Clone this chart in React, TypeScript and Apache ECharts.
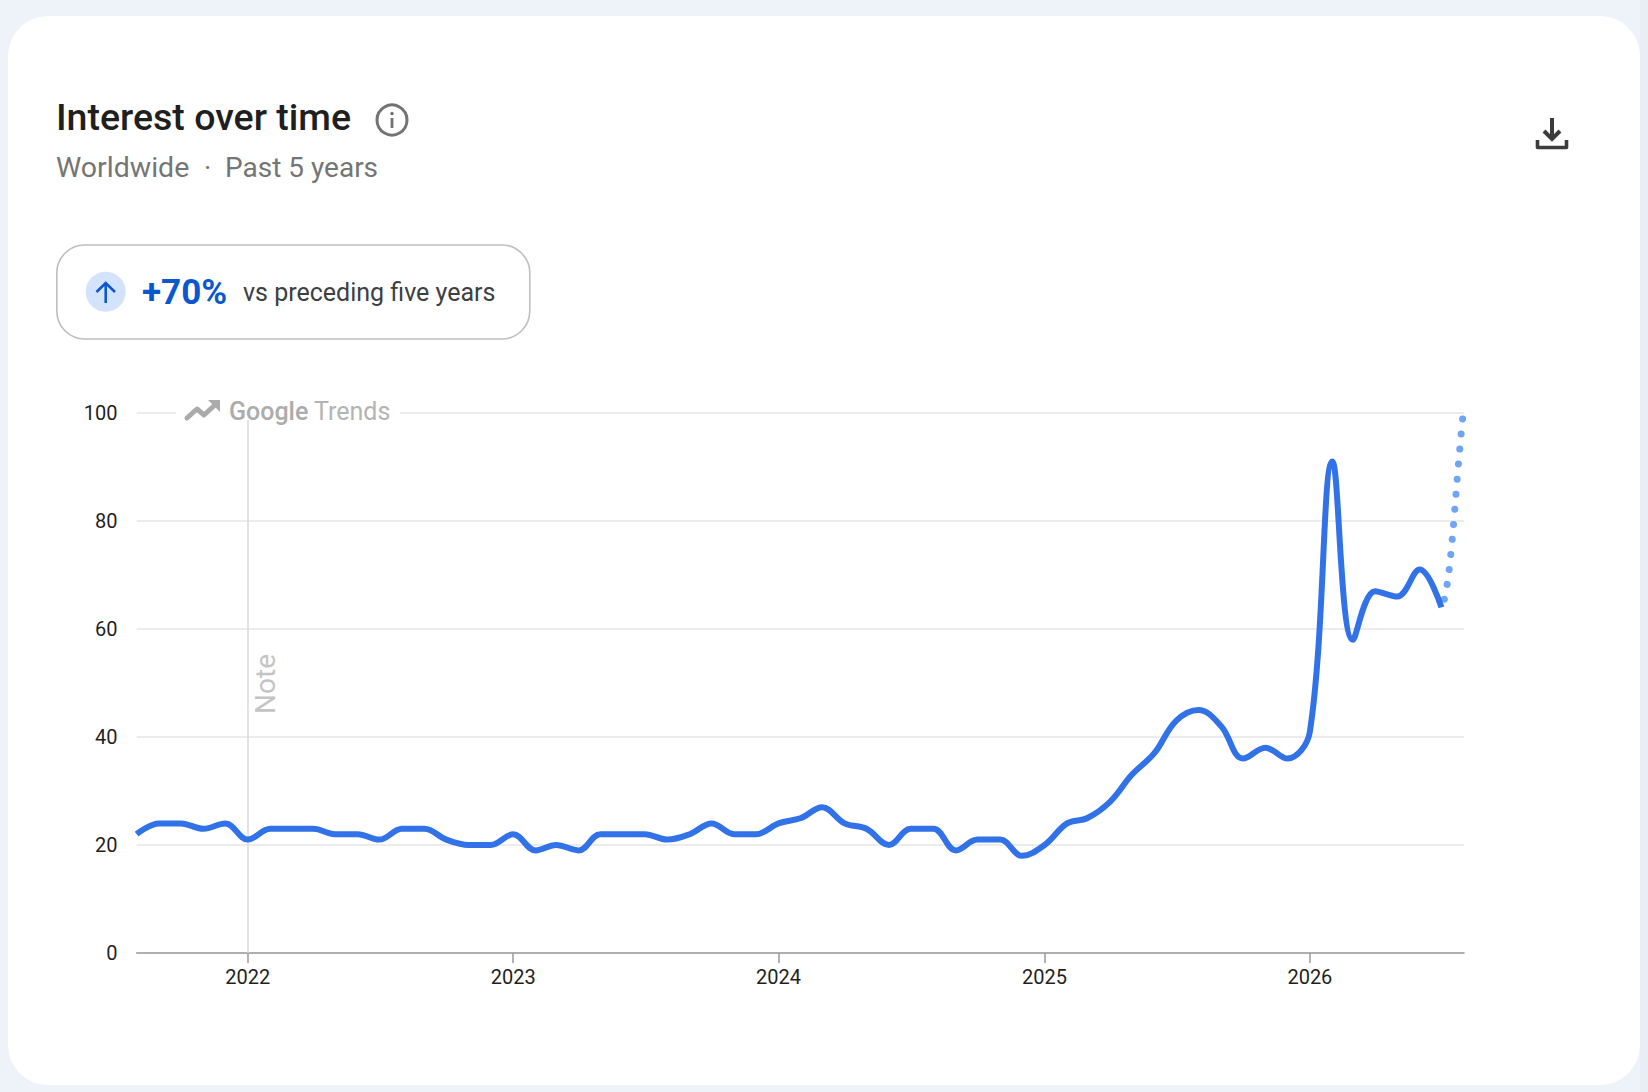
import React, { useEffect, useRef } from "react";
import * as echarts from "echarts";

const months = [
  "2021-08-01","2021-09-01","2021-10-01","2021-11-01","2021-12-01",
  "2022-01-01","2022-02-01","2022-03-01","2022-04-01","2022-05-01","2022-06-01","2022-07-01","2022-08-01","2022-09-01","2022-10-01","2022-11-01","2022-12-01",
  "2023-01-01","2023-02-01","2023-03-01","2023-04-01","2023-05-01","2023-06-01","2023-07-01","2023-08-01","2023-09-01","2023-10-01","2023-11-01","2023-12-01",
  "2024-01-01","2024-02-01","2024-03-01","2024-04-01","2024-05-01","2024-06-01","2024-07-01","2024-08-01","2024-09-01","2024-10-01","2024-11-01","2024-12-01",
  "2025-01-01","2025-02-01","2025-03-01","2025-04-01","2025-05-01","2025-06-01","2025-07-01","2025-08-01","2025-09-01","2025-10-01","2025-11-01","2025-12-01",
  "2026-01-01","2026-02-01","2026-03-01","2026-04-01","2026-05-01","2026-06-01","2026-07-01",
];
const interest = [
  22,24,24,23,24,
  21,23,23,23,22,22,21,23,23,21,20,20,
  22,19,20,19,22,22,22,21,22,24,22,22,
  24,25,27,24,23,20,23,23,19,21,21,18,
  20,24,25,28,33,37,43,45,42,36,38,36,
  41,91,58,67,66,71,64,
];
const partialDates = ["2026-07-05","2026-07-09","2026-07-12","2026-07-15","2026-07-18","2026-07-21","2026-07-24","2026-07-27","2026-07-29","2026-07-31"];
const partialValues = [65.5,68.4,71.5,75.5,80,85,90,94.5,97.5,100];
const axisEnd = "2026-08-01";
const yearTicks = ["2022-01-01","2023-01-01","2024-01-01","2025-01-01","2026-01-01"];
const yTicks = [0,20,40,60,80,100];

const FONT = "Roboto";

export default function App() {
  const ref = useRef<HTMLDivElement>(null);
  useEffect(() => {
    document.body.style.margin = "0";
    document.body.style.overflow = "hidden";
    const chart = echarts.init(ref.current!, null, { renderer: "svg" });
    const t = (s: string) => +echarts.time.parse(s);
    const yearValues = yearTicks.map(t);
    chart.setOption({
      animation: false,
      backgroundColor: "#eef2f9",
      grid: { left: 136.6, right: 184, top: 413, bottom: 139, containLabel: false },
      tooltip: { show: false },
      xAxis: {
        type: "value",
        min: t(months[0]),
        max: t(axisEnd),
        splitLine: { show: false },
        axisLine: { onZero: false, lineStyle: { color: "#9a9a9a", width: 1.5 } },
        axisTick: { show: true, length: 10, customValues: yearValues, lineStyle: { color: "#9a9a9a", width: 1.5 } },
        axisLabel: {
          customValues: yearValues,
          color: "#1f1f1f", fontFamily: FONT, fontSize: 20, margin: 14,
          formatter: (v: number) => String(new Date(v).getFullYear()),
        },
      },
      yAxis: {
        type: "value", min: 0, max: 100, interval: 20,
        axisLine: { show: false }, axisTick: { show: false },
        splitLine: { lineStyle: { color: "#e6e6e6", width: 1.5 } },
        axisLabel: { color: "#1f1f1f", fontFamily: FONT, fontSize: 20, margin: 19, customValues: yTicks, padding: [0, 0, 4, 0] },
      },
      series: [
        {
          type: "line", name: "Interest", showSymbol: false, symbol: "none", z: 5,
          smooth: 0.38,
          lineStyle: { color: "#3272e8", width: 6, cap: "butt", join: "round" },
          data: months.map((m, i) => [t(m), interest[i]]),
          markLine: {
            silent: true, symbol: "none", animation: false, z: 1,
            label: { show: false },
            lineStyle: { color: "#dadada", width: 1.5, type: "solid" },
            data: [{ xAxis: yearValues[0] }],
          },
        },
        {
          type: "line", name: "Partial", showSymbol: false, symbol: "none", z: 4,
          smooth: 0.4,
          lineStyle: { color: "#70a4f6", width: 7, cap: "round", type: [0.01, 15.1] },
          data: partialDates.map((d, i) => [t(d), partialValues[i]]),
        },
      ],
      graphic: [
        { type: "rect", z: -10, silent: true, shape: { x: 8, y: 16, width: 1632, height: 1069, r: 40 }, style: { fill: "#ffffff" } },
        { type: "rect", z: -10, silent: true, shape: { x: 1640, y: 0, width: 8, height: 1092 }, style: { fill: "#e9edf5" } },
        { type: "text", z: 20, silent: true, x: 56, y: 98, style: { text: "Interest over time", fill: "#1f1f1f", font: `500 37.5px ${FONT}` } },
        { type: "circle", z: 20, silent: true, shape: { cx: 392, cy: 120, r: 15 }, style: { fill: "none", stroke: "#737373", lineWidth: 3 } },
        { type: "rect", z: 20, silent: true, shape: { x: 390.6, y: 118, width: 2.8, height: 10 }, style: { fill: "#737373" } },
        { type: "circle", z: 20, silent: true, shape: { cx: 392, cy: 113.5, r: 1.8 }, style: { fill: "#737373" } },
        { type: "text", z: 20, silent: true, x: 56, y: 153, style: { text: "Worldwide", fill: "#757575", font: `400 28.5px ${FONT}` } },
        { type: "text", z: 20, silent: true, x: 204, y: 153, style: { text: "·", fill: "#757575", font: `400 28px ${FONT}` } },
        { type: "text", z: 20, silent: true, x: 225, y: 153, style: { text: "Past 5 years", fill: "#757575", font: `400 28px ${FONT}` } },

        { type: "polyline", z: 20, silent: true, shape: { points: [[1552, 118], [1552, 138]] }, style: { fill: "none", stroke: "#3c3c3c", lineWidth: 4 } },
        { type: "polyline", z: 20, silent: true, shape: { points: [[1544, 131], [1552, 139], [1560, 131]] }, style: { fill: "none", stroke: "#3c3c3c", lineWidth: 4 } },
        { type: "polyline", z: 20, silent: true, shape: { points: [[1537.5, 140], [1537.5, 147.5], [1566.5, 147.5], [1566.5, 140]] }, style: { fill: "none", stroke: "#3c3c3c", lineWidth: 3.6, lineJoin: "round" } },

        { type: "rect", z: 20, silent: true, shape: { x: 56.8, y: 245, width: 473, height: 94, r: 28 }, style: { fill: "#fff", stroke: "#bfbfbf", lineWidth: 1.6 } },
        { type: "circle", z: 21, silent: true, shape: { cx: 105.7, cy: 291.7, r: 20 }, style: { fill: "#d3e3fc" } },
        { type: "polyline", z: 22, silent: true, shape: { points: [[105.7, 283], [105.7, 303]] }, style: { fill: "none", stroke: "#0b57d0", lineWidth: 2.6 } },
        { type: "polyline", z: 22, silent: true, shape: { points: [[96.5, 292], [105.7, 283], [115, 292]] }, style: { fill: "none", stroke: "#0b57d0", lineWidth: 2.6 } },
        { type: "text", z: 22, silent: true, x: 142, y: 275, style: { text: "+70%", fill: "#0b57d0", font: `700 35px ${FONT}` } },
        { type: "text", z: 22, silent: true, x: 243, y: 280, style: { text: "vs preceding five years", fill: "#3c4043", font: `400 25px ${FONT}` } },

        { type: "rect", z: 20, silent: true, shape: { x: 176, y: 398, width: 224, height: 22 }, style: { fill: "#ffffff" } },
        { type: "polyline", z: 21, silent: true, shape: { points: [[187, 418], [197, 409], [204, 415], [216, 404]] }, style: { fill: "none", stroke: "#ababab", lineWidth: 5, lineCap: "round", lineJoin: "round" } },
        { type: "polygon", z: 21, silent: true, shape: { points: [[208, 400], [220, 400], [220, 412]] }, style: { fill: "#ababab" } },
        { type: "text", z: 21, silent: true, x: 229, y: 399, style: { text: "Google", fill: "#acacac", font: `500 25px ${FONT}` } },
        { type: "text", z: 21, silent: true, x: 314, y: 399, style: { text: "Trends", fill: "#b4b4b4", font: `400 25px ${FONT}` } },
        { type: "text", z: 21, silent: true, x: 265, y: 684, rotation: Math.PI / 2, style: { text: "Note", fill: "#c4c4c4", font: `400 28px ${FONT}`, align: "center", verticalAlign: "middle" } },
      ],
    });
    return () => chart.dispose();
  }, []);
  return <div ref={ref} style={{ width: 1648, height: 1092 }} />;
}
